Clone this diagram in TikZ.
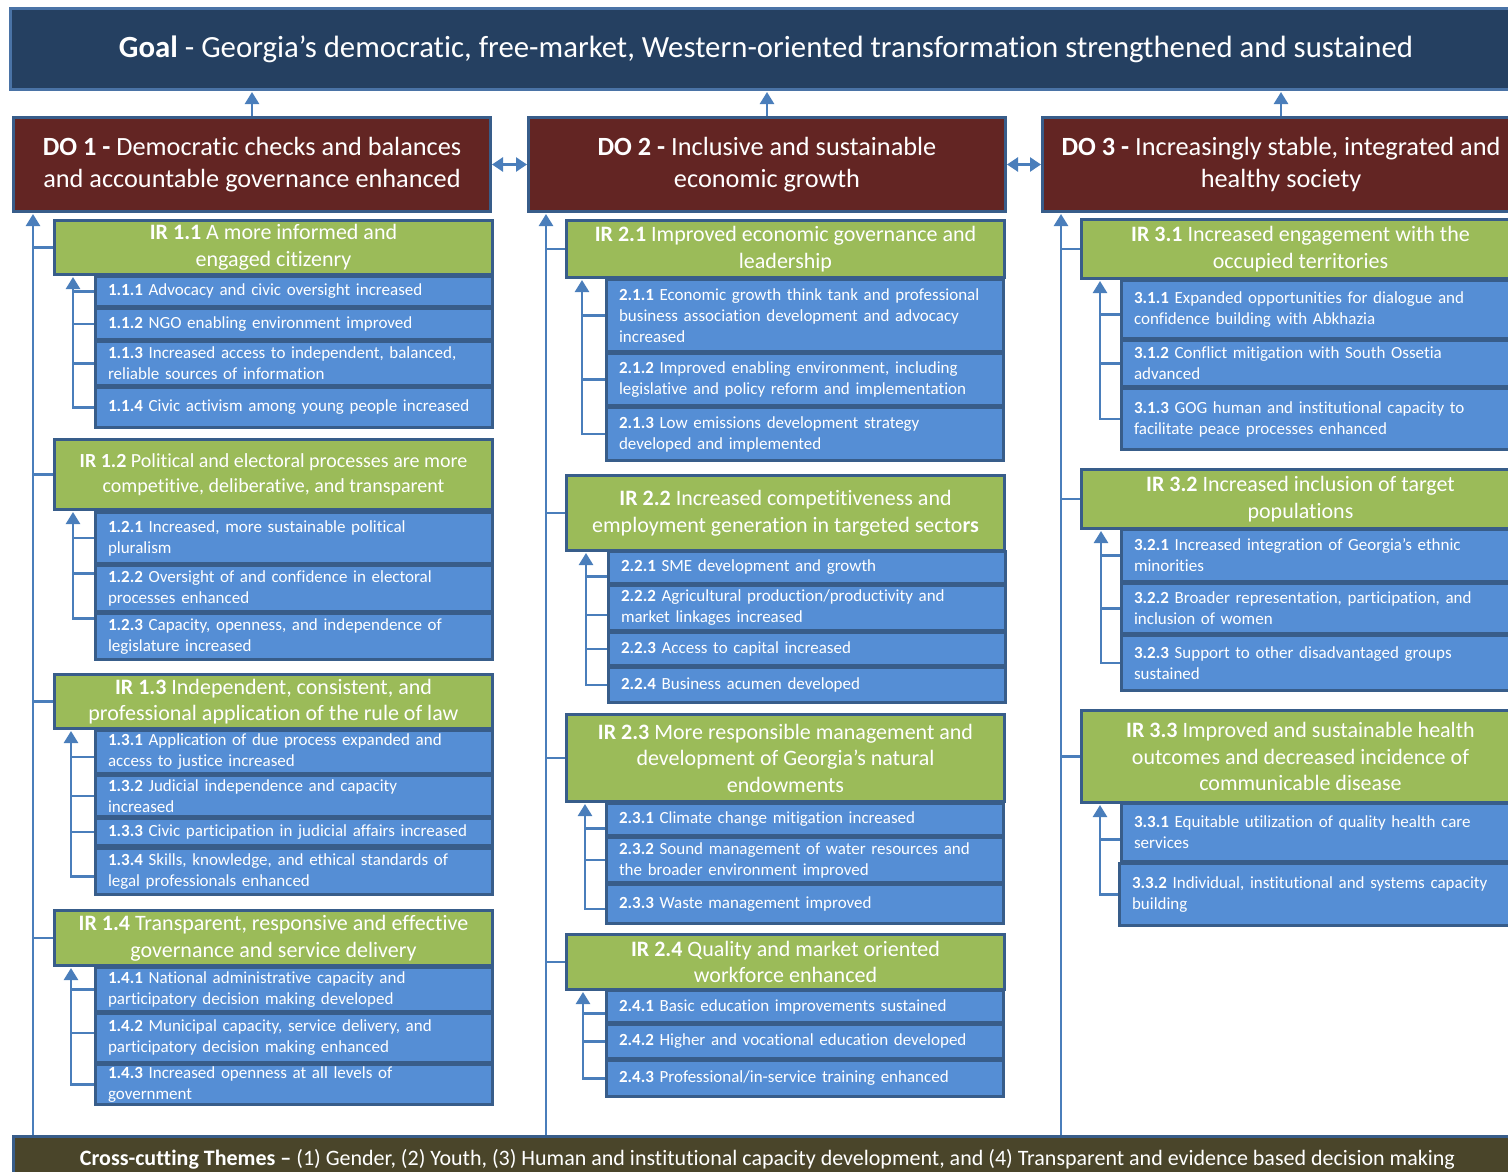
\documentclass[tikz,border=0pt]{standalone}
\usepackage{fontspec}
\setmainfont{Carlito}[Ligatures={NoCommon}]
\usepackage{xcolor}
\usepackage{tikz}
\usetikzlibrary{arrows.meta, positioning}

\definecolor{goalfill}{HTML}{254061}
\definecolor{goalline}{HTML}{4A73A6}
\definecolor{dored}{HTML}{632523}
\definecolor{boxline}{HTML}{385D8A}
\definecolor{irgreen}{HTML}{9BBB59}
\definecolor{subblue}{HTML}{558ED5}
\definecolor{ctfill}{HTML}{4A452A}
\definecolor{linkblue}{HTML}{4A7EBB}

\begin{document}
\begin{tikzpicture}[x=1pt, y=-1pt,
  box/.style={draw=boxline, line width=3pt, text=white, anchor=north west, inner sep=0pt, align=center},
  goalbox/.style={box, fill=goalfill, draw=goalline, font=\fontsize{30.8}{36}\selectfont, minimum width=1511pt, minimum height=81pt},
  dobox/.style={box, fill=dored, font=\fontsize{26.3}{32}\selectfont, minimum width=477pt, minimum height=94pt},
  irbox/.style={box, fill=irgreen, font=\fontsize{22}{26.5}\selectfont, minimum width=438pt},
  subbox/.style={box, fill=subblue, font=\fontsize{17}{21}\selectfont, align=left, text width=372pt, inner xsep=12.5pt, minimum width=397pt},
  ctbox/.style={box, fill=ctfill, font=\fontsize{22}{26}\selectfont, minimum width=1508pt, minimum height=45pt},
  link/.style={draw=linkblue, line width=2.5pt},
  flow/.style={link, -{Triangle[width=14pt,length=12pt]}, shorten >=1pt},
  twoway/.style={link, {Triangle[width=14pt,length=11pt]}-{Triangle[width=14pt,length=11pt]}}
]
\useasboundingbox (0,0) rectangle (1508,1172);
\clip (0,0) rectangle (1508,1172);

  % Goal and DOs
  \node[goalbox] (goal) at (9,7) {\textbf{Goal} - Georgia’s democratic, free-market, Western-oriented transformation strengthened and sustained};
  \node[dobox] (do1) at (12,116) {\textbf{DO 1 -} Democratic checks and balances\\and accountable governance enhanced};
  \node[dobox] (do2) at (527,116) {\textbf{DO 2 -} Inclusive and sustainable\\economic growth};
  \node[dobox] (do3) at (1041,116) {\textbf{DO 3 -} Increasingly stable, integrated and\\healthy society};

  % DO 1
  \node[irbox, minimum height=54pt] (ir11) at (53,219) {\textbf{IR 1.1} A more informed and\\engaged citizenry};
  \node[subbox, minimum height=30pt] (s111) at (94,275) {\textbf{1.1.1} Advocacy and civic oversight increased};
  \node[subbox, minimum height=31pt] (s112) at (94,307) {\textbf{1.1.2} NGO enabling environment improved};
  \node[subbox, minimum height=44pt] (s113) at (94,340) {\textbf{1.1.3} Increased access to independent, balanced,\\reliable sources of information};
  \node[subbox, minimum height=40pt] (s114) at (94,386) {\textbf{1.1.4} Civic activism among young people increased};

  \node[irbox, minimum height=70pt, font=\fontsize{20}{25}\selectfont] (ir12) at (53,438) {\textbf{IR 1.2} Political and electoral processes are more\\competitive, deliberative, and transparent};
  \node[subbox, minimum height=51pt] (s121) at (94,511) {\textbf{1.2.1} Increased, more sustainable political\\pluralism};
  \node[subbox, minimum height=46pt] (s122) at (94,564) {\textbf{1.2.2} Oversight of and confidence in electoral\\processes enhanced};
  \node[subbox, minimum height=46pt] (s123) at (94,612) {\textbf{1.2.3} Capacity, openness, and independence of\\legislature increased};

  \node[irbox, minimum height=54pt] (ir13) at (53,673) {\textbf{IR 1.3} Independent, consistent, and\\professional application of the rule of law};
  \node[subbox, minimum height=43pt] (s131) at (94,729) {\textbf{1.3.1} Application of due process expanded and\\access to justice increased};
  \node[subbox, minimum height=41pt] (s132) at (94,774) {\textbf{1.3.2} Judicial independence and capacity\\increased};
  \node[subbox, minimum height=27pt] (s133) at (94,817) {\textbf{1.3.3} Civic participation in judicial affairs increased};
  \node[subbox, minimum height=46pt] (s134) at (94,847) {\textbf{1.3.4} Skills, knowledge, and ethical standards of\\legal professionals enhanced};

  \node[irbox, minimum height=55pt] (ir14) at (53,909) {\textbf{IR 1.4} Transparent, responsive and effective\\governance and service delivery};
  \node[subbox, minimum height=44pt] (s141) at (94,966) {\textbf{1.4.1} National administrative capacity and\\participatory decision making developed};
  \node[subbox, minimum height=49pt] (s142) at (94,1012) {\textbf{1.4.2} Municipal capacity, service delivery, and\\participatory decision making enhanced};
  \node[subbox, minimum height=40pt] (s143) at (94,1063) {\textbf{1.4.3} Increased openness at all levels of\\government};

  % DO 2
  \node[irbox, minimum height=57pt] (ir21) at (565,219) {\textbf{IR 2.1} Improved economic governance and\\leadership};
  \node[subbox, minimum height=72pt] (s211) at (605,278) {\textbf{2.1.1} Economic growth think tank and professional\\business association development and advocacy\\increased};
  \node[subbox, minimum height=52pt] (s212) at (605,352) {\textbf{2.1.2} Improved enabling environment, including\\legislative and policy reform and implementation};
  \node[subbox, minimum height=53pt] (s213) at (605,406) {\textbf{2.1.3} Low emissions development strategy\\developed and implemented};

  \node[irbox, minimum height=75pt] (ir22) at (565,474) {\textbf{IR 2.2} Increased competitiveness and\\employment generation in targeted secto\textbf{rs}};
  \node[subbox, minimum height=32pt] (s221) at (607,550) {\textbf{2.2.1} SME development and growth};
  \node[subbox, minimum height=45pt] (s222) at (607,584) {\textbf{2.2.2} Agricultural production/productivity and\\market linkages increased};
  \node[subbox, minimum height=33pt] (s223) at (607,631) {\textbf{2.2.3} Access to capital increased};
  \node[subbox, minimum height=35pt] (s224) at (607,666) {\textbf{2.2.4} Business acumen developed};

  \node[irbox, minimum height=87pt] (ir23) at (565,713) {\textbf{IR 2.3} More responsible management and\\development of Georgia’s natural\\endowments};
  \node[subbox, minimum height=32pt] (s231) at (605,802) {\textbf{2.3.1} Climate change mitigation increased};
  \node[subbox, minimum height=45pt] (s232) at (605,836) {\textbf{2.3.2} Sound management of water resources and\\the broader environment improved};
  \node[subbox, minimum height=39pt] (s233) at (605,883) {\textbf{2.3.3} Waste management improved};

  \node[irbox, minimum height=55pt] (ir24) at (565,933) {\textbf{IR 2.4} Quality and market oriented\\workforce enhanced};
  \node[subbox, minimum height=32pt] (s241) at (605,989) {\textbf{2.4.1} Basic education improvements sustained};
  \node[subbox, minimum height=34pt] (s242) at (605,1023) {\textbf{2.4.2} Higher and vocational education developed};
  \node[subbox, minimum height=36pt] (s243) at (605,1059) {\textbf{2.4.3} Professional/in-service training enhanced};

  % DO 3
  \node[irbox, minimum height=59pt] (ir31) at (1080,218) {\textbf{IR 3.1} Increased engagement with the\\occupied territories};
  \node[subbox, minimum height=58pt] (s311) at (1120,279) {\textbf{3.1.1} Expanded opportunities for dialogue and\\confidence building with Abkhazia};
  \node[subbox, minimum height=46pt] (s312) at (1120,339) {\textbf{3.1.2} Conflict mitigation with South Ossetia\\advanced};
  \node[subbox, minimum height=61pt] (s313) at (1120,387) {\textbf{3.1.3} GOG human and institutional capacity to\\facilitate peace processes enhanced};

  \node[irbox, minimum height=59pt] (ir32) at (1080,468) {\textbf{IR 3.2} Increased inclusion of target\\populations};
  \node[subbox, minimum height=52pt] (s321) at (1120,528) {\textbf{3.2.1} Increased integration of Georgia’s ethnic\\minorities};
  \node[subbox, minimum height=50pt] (s322) at (1120,582) {\textbf{3.2.2} Broader representation, participation, and\\inclusion of women};
  \node[subbox, minimum height=55pt] (s323) at (1120,634) {\textbf{3.2.3} Support to other disadvantaged groups\\sustained};

  \node[irbox, minimum height=92pt] (ir33) at (1080,709) {\textbf{IR 3.3} Improved and sustainable health\\outcomes and decreased incidence of\\communicable disease};
  \node[subbox, minimum height=58pt] (s331) at (1120,802) {\textbf{3.3.1} Equitable utilization of quality health care\\services};
  \node[subbox, minimum height=62pt] (s332) at (1118,862) {\textbf{3.3.2} Individual, institutional and systems capacity\\building};

  % Cross-cutting
  \node[ctbox] (ct) at (12,1135) {\textbf{Cross-cutting Themes –} (1) Gender, (2) Youth, (3) Human and institutional capacity development, and (4) Transparent and evidence based decision making};

  % Rails
  \coordinate (m1) at (33,0);
  \coordinate (m2) at (546,0);
  \coordinate (m3) at (1061,0);
  \coordinate (t11) at (73,0);
  \coordinate (t12) at (73,0);
  \coordinate (t13) at (71,0);
  \coordinate (t14) at (71,0);
  \coordinate (t21) at (582,0);
  \coordinate (t22) at (586,0);
  \coordinate (t23) at (585,0);
  \coordinate (t24) at (583,0);
  \coordinate (t31) at (1100,0);
  \coordinate (t32) at (1101,0);
  \coordinate (t33) at (1100,0);

  % branch points off the box middles
  \coordinate (b122) at ([yshift=15pt]s122.west);
  \coordinate (b123) at ([yshift=18pt]s123.west);
  \coordinate (b131) at ([yshift=-5pt]s131.west);
  \coordinate (b134) at ([yshift=-5pt]s134.west);
  \coordinate (b142) at ([yshift=5pt]s142.west);
  \coordinate (b221) at ([yshift=-9pt]s221.west);
  \coordinate (b222) at ([yshift=-7pt]s222.west);
  \coordinate (b231) at ([yshift=-9pt]s231.west);
  \coordinate (b233) at ([yshift=-5pt]s233.west);
  \coordinate (b241) at ([yshift=-7pt]s241.west);
  \coordinate (b311) at ([yshift=-5pt]s311.west);
  \coordinate (b331) at ([yshift=-7pt]s331.west);

  % DOs to Goal
  \draw[flow] (do1.north) -- (goal.south -| do1.north);
  \draw[flow] (do2.north) -- (goal.south -| do2.north);
  \draw[flow] (do3.north) -- (goal.south -| do3.north);
  \draw[twoway] (do1.east) -- (do2.west);
  \draw[twoway] (do2.east) -- (do3.west);

  % IRs to DOs
  \draw[flow] (m1 |- ct.north) -- (m1 |- do1.south);
  \draw[flow] (m2 |- ct.north) -- (m2 |- do2.south);
  \draw[flow] (m3 |- ct.north) -- (m3 |- do3.south);
  \foreach \ir/\m in {ir11/m1, ir12/m1, ir13/m1, ir14/m1, ir21/m2, ir22/m2, ir23/m2, ir24/m2, ir31/m3, ir32/m3, ir33/m3}
    \draw[link] (\m |- \ir.west) -- (\ir.west);

  % Sub-IRs to IRs
  \draw[flow] (s114.west) -| (t11 |- ir11.south);
  \draw[link] (s111.west) -- (t11 |- s111.west);
  \draw[link] (s112.west) -- (t11 |- s112.west);
  \draw[link] (s113.west) -- (t11 |- s113.west);

  \draw[flow] (b123) -| (t12 |- ir12.south);
  \draw[link] (s121.west) -- (t12 |- s121.west);
  \draw[link] (b122) -- (t12 |- b122);

  \draw[flow] (b134) -| (t13 |- ir13.south);
  \draw[link] (b131) -- (t13 |- b131);
  \draw[link] (s132.west) -- (t13 |- s132.west);
  \draw[link] (s133.west) -- (t13 |- s133.west);

  \draw[flow] (s143.west) -| (t14 |- ir14.south);
  \draw[link] (s141.west) -- (t14 |- s141.west);
  \draw[link] (b142) -- (t14 |- b142);

  \draw[flow] (s213.west) -| (t21 |- ir21.south);
  \draw[link] (s211.west) -- (t21 |- s211.west);
  \draw[link] (s212.west) -- (t21 |- s212.west);

  \draw[flow] (s224.west) -| (t22 |- ir22.south);
  \draw[link] (b221) -- (t22 |- b221);
  \draw[link] (b222) -- (t22 |- b222);
  \draw[link] (s223.west) -- (t22 |- s223.west);

  \draw[flow] (b233) -| (t23 |- ir23.south);
  \draw[link] (b231) -- (t23 |- b231);
  \draw[link] (s232.west) -- (t23 |- s232.west);

  \draw[flow] (s243.west) -| (t24 |- ir24.south);
  \draw[link] (b241) -- (t24 |- b241);
  \draw[link] (s242.west) -- (t24 |- s242.west);

  \draw[flow] (s313.west) -| (t31 |- ir31.south);
  \draw[link] (b311) -- (t31 |- b311);
  \draw[link] (s312.west) -- (t31 |- s312.west);

  \draw[flow] (s323.west) -| (t32 |- ir32.south);
  \draw[link] (s321.west) -- (t32 |- s321.west);
  \draw[link] (s322.west) -- (t32 |- s322.west);

  \draw[flow] (s332.west) -| (t33 |- ir33.south);
  \draw[link] (b331) -- (t33 |- b331);

\end{tikzpicture}
\end{document}
